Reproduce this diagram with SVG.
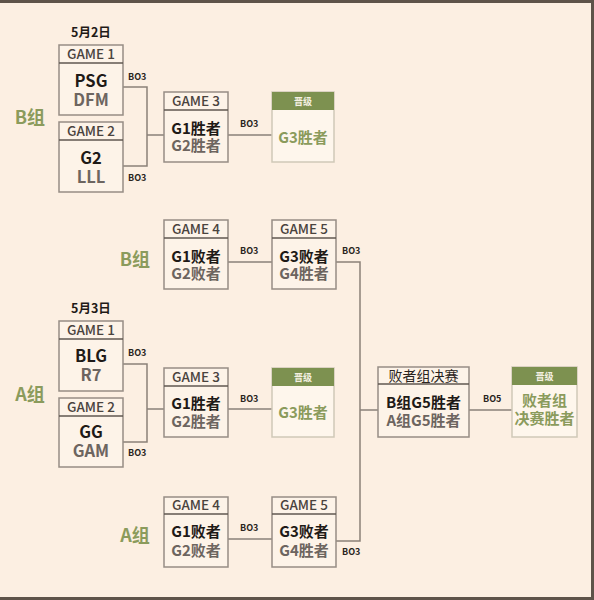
<svg xmlns="http://www.w3.org/2000/svg" width="594" height="600" viewBox="0 0 594 600">
<style>
text{font-family:"Noto Sans CJK SC","Liberation Sans",sans-serif;text-anchor:middle}
.box{fill:#fdf3e8;stroke:#968d85;stroke-width:1.5}
.sep{stroke:#5f5750;stroke-width:1.6}
.pbox{fill:#fef6ec;stroke:#cfc9b8;stroke-width:1.5}
.phead{fill:#7d9150}
.hd{font-size:13.5px;font-weight:500;fill:#4a433e}
.t1{font-size:16.5px;font-weight:700;fill:#1f1a17}
.t2{font-size:16.5px;font-weight:700;fill:#6d6560}
.s1{font-size:15px;font-weight:700;fill:#1f1a17}
.s2{font-size:15px;font-weight:700;fill:#6d6560}
.g{font-size:15px;font-weight:700;fill:#8b9b5c}
.ph{font-size:9px;font-weight:700;fill:#f4f0e2}
.bo{font-size:9px;font-weight:700;fill:#2a2420;text-anchor:start}
.grp{font-size:18px;font-weight:700;fill:#8b9b5c}
.date{font-size:12.5px;font-weight:700;fill:#1f1a17}
.conn{fill:none;stroke:#8a8178;stroke-width:1.5}
</style>
<rect x="0" y="0" width="594" height="600" fill="#fcefe2"/>
<path d="M0,1.5 H592.5 V598.5 H0" fill="none" stroke="#5e5349" stroke-width="3"/>

<g id="connectors" class="conn">
<path d="M123,87 H147 V166 H123"/>
<path d="M147,135 H164"/>
<path d="M228,135 H272"/>
<path d="M228,262 H272"/>
<path d="M336,262 H360 V541 H336"/>
<path d="M360,410 H378"/>
<path d="M469,410 H512"/>
<path d="M123,364 H147 V442 H123"/>
<path d="M147,409 H164"/>
<path d="M228,409 H272"/>
<path d="M228,539 H272"/>
</g>

<g id="labels">
<text class="date" x="91" y="37">5月2日</text>
<text class="date" x="91" y="313">5月3日</text>
<text class="grp" x="30" y="124">B组</text>
<text class="grp" x="135" y="266">B组</text>
<text class="grp" x="30" y="401">A组</text>
<text class="grp" x="135" y="542">A组</text>
<text class="bo" x="128" y="80">BO3</text>
<text class="bo" x="128" y="181">BO3</text>
<text class="bo" x="240" y="127">BO3</text>
<text class="bo" x="240" y="254">BO3</text>
<text class="bo" x="342" y="254">BO3</text>
<text class="bo" x="128" y="356">BO3</text>
<text class="bo" x="128" y="456">BO3</text>
<text class="bo" x="240" y="402">BO3</text>
<text class="bo" x="240" y="531">BO3</text>
<text class="bo" x="342" y="555">BO3</text>
<text class="bo" x="483" y="402">BO5</text>
</g>

<g id="b-game1">
<rect class="box" x="59" y="45" width="64" height="70"/>
<line class="sep" x1="59" y1="63" x2="123" y2="63"/>
<text class="hd" x="91" y="59">GAME 1</text>
<text class="t1" x="91" y="87">PSG</text>
<text class="t2" x="91" y="106">DFM</text>
</g>
<g id="b-game2">
<rect class="box" x="59" y="122" width="64" height="70"/>
<line class="sep" x1="59" y1="140" x2="123" y2="140"/>
<text class="hd" x="91" y="136">GAME 2</text>
<text class="t1" x="91" y="164">G2</text>
<text class="t2" x="91" y="183">LLL</text>
</g>
<g id="b-game3">
<rect class="box" x="164" y="92" width="64" height="70"/>
<line class="sep" x1="164" y1="110" x2="228" y2="110"/>
<text class="hd" x="196" y="106">GAME 3</text>
<text class="s1" x="196" y="134">G1胜者</text>
<text class="s2" x="196" y="151">G2胜者</text>
</g>
<g id="b-promo">
<rect class="pbox" x="272" y="92" width="62" height="70"/>
<rect class="phead" x="272" y="92" width="62" height="18"/>
<text class="ph" x="303" y="104.5">晋级</text>
<text class="g" x="303" y="143">G3胜者</text>
</g>
<g id="b-game4">
<rect class="box" x="164" y="220" width="64" height="69"/>
<line class="sep" x1="164" y1="238" x2="228" y2="238"/>
<text class="hd" x="196" y="234">GAME 4</text>
<text class="s1" x="196" y="262">G1败者</text>
<text class="s2" x="196" y="279">G2败者</text>
</g>
<g id="b-game5">
<rect class="box" x="272" y="220" width="64" height="69"/>
<line class="sep" x1="272" y1="238" x2="336" y2="238"/>
<text class="hd" x="304" y="234">GAME 5</text>
<text class="s1" x="304" y="262">G3败者</text>
<text class="s2" x="304" y="279">G4胜者</text>
</g>

<g id="a-game1">
<rect class="box" x="59" y="321" width="64" height="70"/>
<line class="sep" x1="59" y1="339" x2="123" y2="339"/>
<text class="hd" x="91" y="335">GAME 1</text>
<text class="t1" x="91" y="362">BLG</text>
<text class="t2" x="91" y="381">R7</text>
</g>
<g id="a-game2">
<rect class="box" x="59" y="398" width="64" height="69"/>
<line class="sep" x1="59" y1="416" x2="123" y2="416"/>
<text class="hd" x="91" y="412">GAME 2</text>
<text class="t1" x="91" y="438">GG</text>
<text class="t2" x="91" y="457">GAM</text>
</g>
<g id="a-game3">
<rect class="box" x="164" y="368" width="64" height="69"/>
<line class="sep" x1="164" y1="386" x2="228" y2="386"/>
<text class="hd" x="196" y="382">GAME 3</text>
<text class="s1" x="196" y="409">G1胜者</text>
<text class="s2" x="196" y="427">G2胜者</text>
</g>
<g id="a-promo">
<rect class="pbox" x="272" y="368" width="62" height="69"/>
<rect class="phead" x="272" y="368" width="62" height="18"/>
<text class="ph" x="303" y="380.5">晋级</text>
<text class="g" x="303" y="418">G3胜者</text>
</g>
<g id="a-game4">
<rect class="box" x="164" y="497" width="64" height="70"/>
<line class="sep" x1="164" y1="514" x2="228" y2="514"/>
<text class="hd" x="196" y="510">GAME 4</text>
<text class="s1" x="196" y="537">G1败者</text>
<text class="s2" x="196" y="556">G2败者</text>
</g>
<g id="a-game5">
<rect class="box" x="272" y="497" width="64" height="70"/>
<line class="sep" x1="272" y1="514" x2="336" y2="514"/>
<text class="hd" x="304" y="510">GAME 5</text>
<text class="s1" x="304" y="537">G3败者</text>
<text class="s2" x="304" y="556">G4胜者</text>
</g>

<g id="losers-final">
<rect class="box" x="378" y="367" width="91" height="70"/>
<line class="sep" x1="378" y1="384" x2="469" y2="384"/>
<text x="423.5" y="381" style="font-size:14px;fill:#2a2420">败者组决赛</text>
<text class="s1" x="423.5" y="408">B组G5胜者</text>
<text class="s2" x="423.5" y="426">A组G5胜者</text>
</g>
<g id="final-promo">
<rect class="pbox" x="512" y="367" width="65" height="70"/>
<rect class="phead" x="512" y="367" width="65" height="18"/>
<text class="ph" x="544.5" y="379.5">晋级</text>
<text class="g" x="544.5" y="406">败者组</text>
<text class="g" x="544.5" y="424">决赛胜者</text>
</g>
</svg>
